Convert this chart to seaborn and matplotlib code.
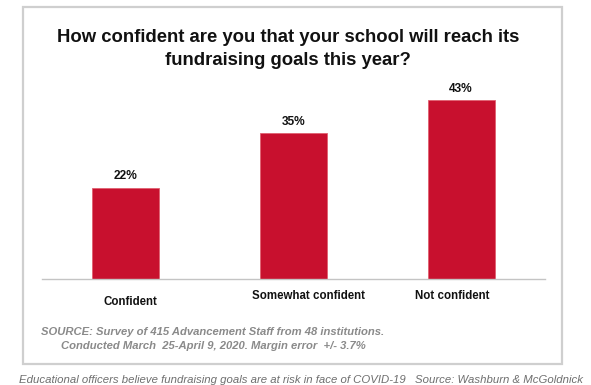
import matplotlib
matplotlib.use("Agg")
import matplotlib.pyplot as plt
import matplotlib.transforms as mtransforms
from matplotlib.patches import Rectangle
import seaborn as sns
import pandas as pd

categories = ["Confident", "Somewhat confident", "Not confident"]
values = [22, 35, 43]
title = "How confident are you that your school will reach its\nfundraising goals this year?"
source_note = ("SOURCE: Survey of 415 Advancement Staff from 48 institutions.\n"
               "Conducted March  25-April 9, 2020. Margin error  +/- 3.7%")
caption_left = "Educational officers believe fundraising goals are at risk in face of COVID-19"
caption_right = "Source: Washburn & McGoldnick"

sns.set_style("white")
plt.rcParams["font.family"] = ["Liberation Sans", "DejaVu Sans"]

df = pd.DataFrame({"category": categories, "value": values})

fig = plt.figure(figsize=(5.91, 3.85), dpi=100)
ax = fig.add_axes([0.071, 0.275, 0.851, 0.465])

sns.barplot(data=df, x="category", y="value", color="#c8102e", width=0.4,
            saturation=1, ax=ax)
for p in ax.patches:
    p.set_edgecolor("#e06070")
    p.set_linewidth(0.6)

ax.bar_label(ax.containers[0], labels=[f"{v}%" for v in values], padding=4,
             fontsize=8.6, fontweight="bold", color="#111111")

ax.set_ylim(0, 43)
ax.set_xlim(-0.5, 2.5)
ax.set_xlabel("")
ax.set_ylabel("")
ax.set_yticks([])
for s in ["top", "right", "left"]:
    ax.spines[s].set_visible(False)
ax.spines["bottom"].set_color("#c4c4c4")
ax.spines["bottom"].set_linewidth(1)

ax.set_xticks(range(len(categories)))
ax.set_xticklabels(categories, fontsize=8.3, fontweight="bold", color="#111111")
ax.tick_params(axis="x", which="major", length=0, pad=8)
ax.set_xticks([0.5, 1.5], minor=True)
ax.tick_params(axis="x", which="minor", length=2.5, color="#c4c4c4", width=1)

# small shifts of the category labels as in the original slide
shifts = [(3, -4), (11, 0), (-6, 0)]
for lbl, (dx, dy) in zip(ax.get_xticklabels(), shifts):
    off = mtransforms.ScaledTranslation(dx / 72, dy / 72, fig.dpi_scale_trans)
    lbl.set_transform(lbl.get_transform() + off)

# frame around the slide
fig.patches.append(Rectangle((23 / 591, 1 - 364 / 385), (562 - 23) / 591, (364 - 7) / 385,
                             transform=fig.transFigure, fill=False,
                             edgecolor="#cfcfcf", linewidth=1.6))

fig.text(0.487, 1 - 49 / 385, title, ha="center", va="center", fontsize=13.3,
         fontweight="bold", color="#111111", linespacing=1.45)

fig.text(213 / 591, 1 - 339 / 385, source_note, ha="center", va="center",
         fontsize=8.1, fontstyle="italic", fontweight="bold", color="#8a8a8a",
         linespacing=1.45)

fig.text(19 / 591, 1 - 380 / 385, caption_left, ha="left", va="center",
         fontsize=8.2, fontstyle="italic", color="#6e6e6e")
fig.text(583 / 591, 1 - 380 / 385, caption_right, ha="right", va="center",
         fontsize=8.2, fontstyle="italic", color="#6e6e6e")

fig.savefig("out.png", dpi=100)
